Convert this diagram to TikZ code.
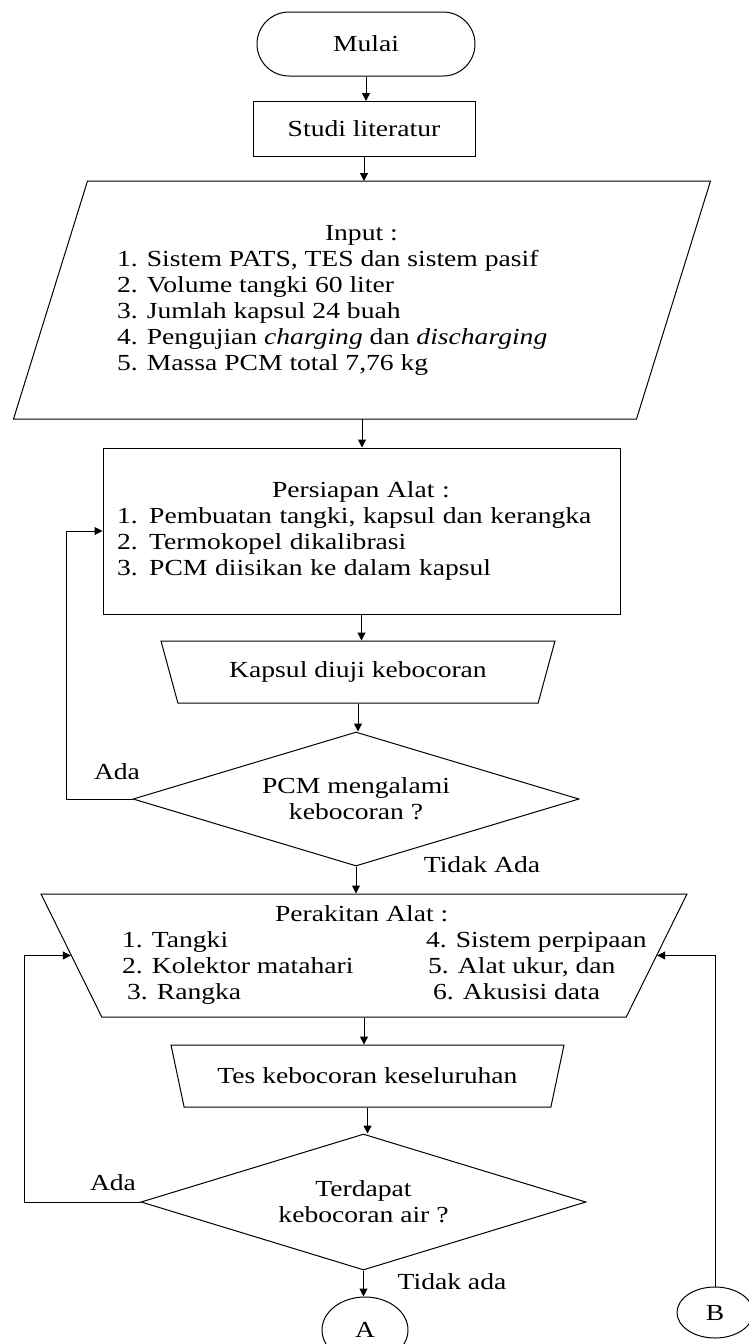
\documentclass[tikz,border=0pt]{standalone}
\usepackage{fontspec}
\setmainfont{Liberation Serif}[FakeStretch=1.2]
\usetikzlibrary{arrows.meta, positioning, shapes.geometric, calc}

\begin{document}
\begin{tikzpicture}[x=1pt, y=-1pt, font=\fontsize{23}{26}\selectfont, line width=1pt,
    terminal/.style={draw, rectangle, rounded corners=32pt, minimum width=218pt, minimum height=64pt},
    process/.style={draw, rectangle, inner sep=0pt},
    io/.style={rectangle, inner sep=0pt},
    manual/.style={draw, trapezium, trapezium stretches body=true, shape border rotate=180, inner sep=0pt},
    decision/.style={draw, diamond, aspect=3.3, inner sep=0pt, align=center},
    connector/.style={draw, ellipse, inner sep=0pt},
    arrow/.style={-{Triangle[length=8pt, width=8pt]}},
]
  \useasboundingbox (0,0) rectangle (749,1344);

  \node[terminal] (mulai) at (366,44) {Mulai};
  \node[process, minimum width=222pt, minimum height=55pt] (studi) at (364,129) {Studi literatur};
  \node[io, minimum width=622pt, minimum height=237pt] (input) at (362,300) {\makebox[0pt][l]{\hspace*{-245pt}%
    \begin{tabular}{@{}l@{}}
      \hspace*{208pt}Input :\\
      1. Sistem PATS, TES dan sistem pasif\\
      2. Volume tangki 60 liter\\
      3. Jumlah kapsul 24 buah\\
      4. Pengujian \textit{charging} dan \textit{discharging}\\
      5. Massa PCM total 7,76 kg
    \end{tabular}}};
  % parallelogram round the input
  \draw ([xshift=37pt]input.north west) -- ([xshift=37pt]input.north east)
     -- ([xshift=-37pt]input.south east) -- ([xshift=-37pt]input.south west) -- cycle;
  \node[process, minimum width=517pt, minimum height=166pt, text width=489pt, align=left] (prep) at (361.5,531) {%
    \hspace*{155pt}Persiapan Alat :\\
    1. Pembuatan tangki, kapsul dan kerangka\\
    2. Termokopel dikalibrasi\\
    3. PCM diisikan ke dalam kapsul};
  \node[manual, trapezium angle=51, minimum width=394pt, minimum height=62pt] (kapsul) at (358,672) {Kapsul diuji kebocoran};
  \node[decision, minimum width=446pt, minimum height=134pt] (cek1) at (356,799) {PCM mengalami\\kebocoran ?};

  \node[manual, trapezium angle=59.7, minimum width=646pt, minimum height=123pt] (rakit) at (364,955.5) {\makebox[0pt][l]{\hspace*{-242pt}%
    \begin{tabular}{@{}p{304pt}@{}l@{}}
      \multicolumn{2}{@{}l@{}}{\hspace*{153pt}Perakitan Alat :}\\
      1. Tangki & 4. Sistem perpipaan\\
      2. Kolektor matahari & \hspace*{2pt}5. Alat ukur, dan\\
      \hspace*{5pt}3. Rangka & \hspace*{7pt}6. Akusisi data
    \end{tabular}}};
  \node[manual, trapezium angle=51, minimum width=393pt, minimum height=62pt] (tes) at (367.5,1076) {Tes kebocoran keseluruhan};
  \node[decision, minimum width=445pt, minimum height=136pt] (cek2) at (363.5,1202) {Terdapat\\kebocoran air ?};
  \node[connector, minimum width=86pt, minimum height=66pt] (A) at (365,1330) {A};
  \node[connector, minimum width=76pt, minimum height=51pt] (B) at (715,1312.5) {B};

  % main flow
  \foreach \a/\b in {mulai/studi, studi/input, input/prep, prep/kapsul, kapsul/cek1,
                     cek1/rakit, rakit/tes, tes/cek2, cek2/A}
    \draw[arrow] (\a.south) -- (\a.south |- \b.north);

  % loops back
  \draw[arrow] (cek1.west) -- ++(-66,0) |- (prep.west);
  \draw[arrow] (cek2.west) -- ++(-116,0) |- (rakit.west);
  \draw[arrow] (B.north) |- (rakit.east);

  \node (ada1) at (117,772) {Ada};
  \node (tidak1) at (482,865) {Tidak Ada};
  \node (ada2) at (113,1183) {Ada};
  \node (tidak2) at (452,1282) {Tidak ada};
\end{tikzpicture}
\end{document}
